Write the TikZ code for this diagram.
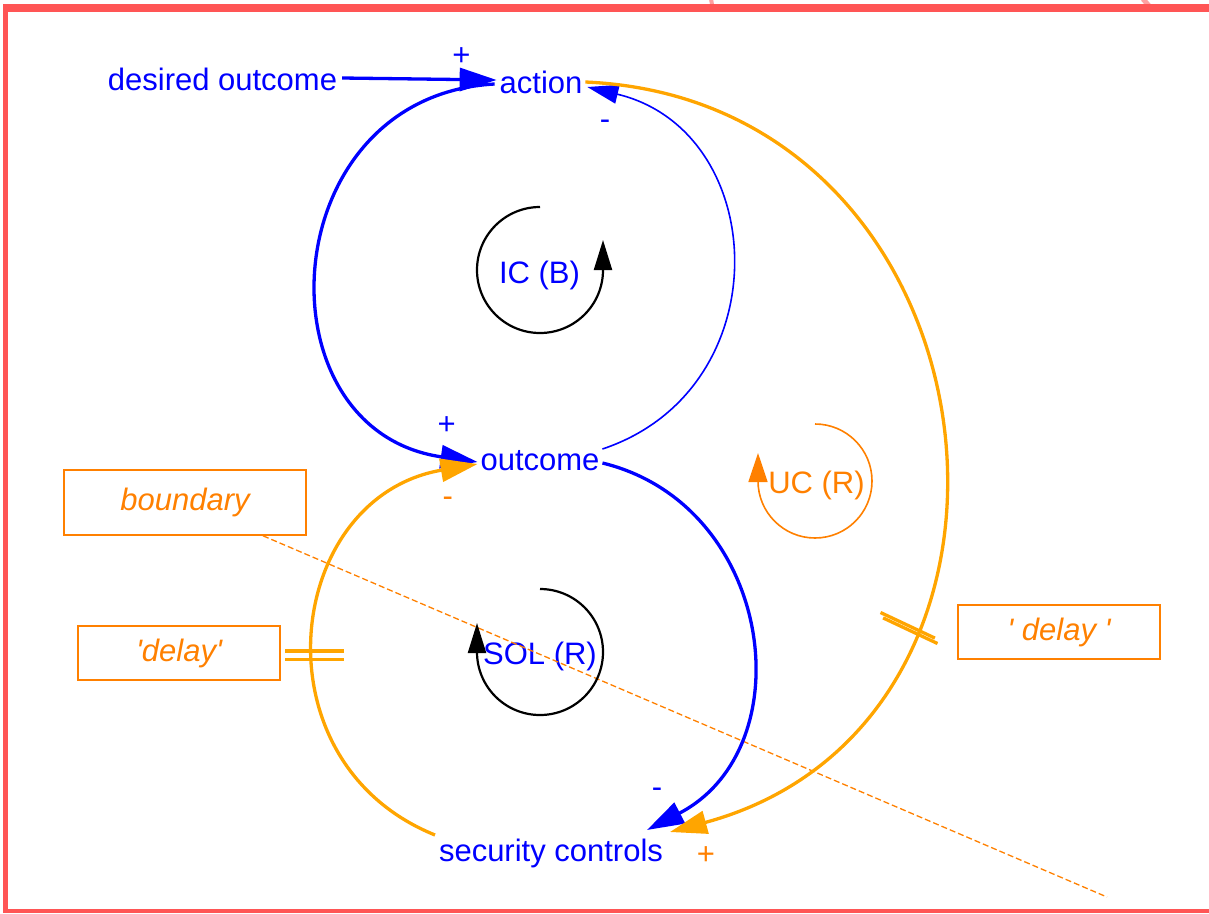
\documentclass[tikz,border=0pt]{standalone}
\usepackage{fontspec}
\setmainfont{Liberation Sans}
\setmonofont{Liberation Sans}
\usetikzlibrary{arrows.meta,calc}
\definecolor{vblue}{RGB}{0,0,255}
\definecolor{lorange}{RGB}{255,165,0}
\definecolor{dorange}{RGB}{255,128,0}
\definecolor{framered}{RGB}{255,85,85}
\definecolor{pinkmark}{RGB}{255,160,160}
\tikzset{
  var/.style={font=\fontsize{31}{36}\selectfont, text=vblue, inner sep=0pt, outer sep=0pt, anchor=base},
  pol/.style={font=\fontsize{31}{36}\selectfont, inner sep=0pt, outer sep=0pt, anchor=base},
  box/.style={draw=dorange, line width=1.6pt, text=dorange, inner sep=0pt,
              font=\fontsize{31}{36}\selectfont\itshape},
  thickblue/.style={draw=vblue, line width=3.3pt, -{Triangle[length=37pt,width=23pt]}},
  thinblue/.style={draw=vblue, line width=1.6pt, -{Triangle[length=31pt,width=19pt]}},
  thickorange/.style={draw=lorange, line width=3.3pt, -{Triangle[length=37pt,width=23pt]}},
  loopline/.style={line width=2.2pt, -{Triangle[length=30pt,width=18pt]}},
  delaymark/.style={draw=lorange, line width=3.3pt},
}
\begin{document}
\begin{tikzpicture}[x=1pt,y=-1pt]
\useasboundingbox (0,0) rectangle (1209,913);

% frame
\draw[pinkmark, line width=4pt] (711,-1) -- (712.5,7);
\draw[pinkmark, line width=5pt] (1143,-1) -- (1150,7);
\draw[framered, line width=8pt] (4,8) -- (1209,8);
\draw[framered, line width=5pt] (5.5,4) -- (5.5,913);
\draw[framered, line width=3.5pt] (4,911.2) -- (1209,911.2);

% variables
\node[var] (desired) at (222.5,90) {desired outcome};
\node[var] (action) at (541,93) {action};
\node[var] (outcome) at (540,470) {outcome};
\node[var] (security) at (551,861) {security controls};

% loop labels
\node[var] (ic) at (539.5,283) {IC (B)};
\node[var] (sol) at (540,664) {SOL (R)};
\node[var, text=dorange] (uc) at (816.5,493) {UC (R)};

% boxes
\node[box, minimum width=242pt, minimum height=65pt] (boundary) at (185,502.5) {boundary};
\node[box, minimum width=202pt, minimum height=54pt] (delayL) at (179,653) {\ttfamily\itshape 'delay'};
\node[box, minimum width=202pt, minimum height=54pt] (delayR) at (1059,632) {\ttfamily\itshape ' delay '};

% boundary dashed line
\coordinate (bend) at (1107,897);
\draw[dorange, line width=1.3pt, dash pattern=on 6pt off 3pt] ([xshift=78pt]boundary.south) -- (bend);

% loop symbols
\draw[loopline, black] (540,207) arc[start angle=270, end angle=0, radius=63] -- ++(0,-30);
\draw[loopline, black] (540,589) arc[start angle=270, end angle=540, radius=63] -- ++(0,-29);
\draw[dorange, line width=1.6pt, -{Triangle[length=29pt,width=19pt]}]
  (815,424) arc[start angle=270, end angle=540, radius=57] -- ++(0,-28);

% blue connectors
\draw[thickblue] ([shift={(5,-12)}]desired.base east) -- ([shift={(-3,-13)}]action.base west);
\draw[thickblue] ([shift={(-5,-9)}]action.base west) .. controls +(-222,11.9) and +(-222,-31.7) .. ([shift={(-3,-8)}]outcome.base west);
\draw[thinblue] ([shift={(3,-21)}]outcome.base east) .. controls +(179.1,-59.9) and +(183.7,44.1) .. ([shift={(5,-6)}]action.base east);
\draw[thickblue] ([shift={(3,-7)}]outcome.base east) .. controls +(172,42) and +(158,-82) .. ([shift={(-16,-31)}]security.base east);

% orange connectors
\draw[thickorange] ([shift={(3,-11)}]action.base east) .. controls +(422.5,18.4) and +(408,-110.5) .. ([shift={(7,-29)}]security.base east);
\draw[thickorange] ([shift={(-4,-26)}]security.base west) .. controls +(-182.1,-73.6) and +(-193.6,33.1) .. ([shift={(-3,-6)}]outcome.base west);

% delay marks
\draw[delaymark] (285,651) -- (344,651);
\draw[delaymark] (285,659.5) -- (344,659.5);
\draw[delaymark] (880.5,612.5) -- (934.9,638.1);
\draw[delaymark] (883.1,617.9) -- (937.5,643.5);

% polarity signs
\node[pol, text=vblue] (p1) at (461.5,65.4) {+};
\node[pol, text=vblue] (p2) at (605,129.8) {-};
\node[pol, text=vblue] (p3) at (446.7,434) {+};
\node[pol, text=dorange] (p4) at (447.7,506) {-};
\node[pol, text=vblue] (p5) at (657,797) {-};
\node[pol, text=dorange] (p6) at (706,864) {+};
\end{tikzpicture}
\end{document}
